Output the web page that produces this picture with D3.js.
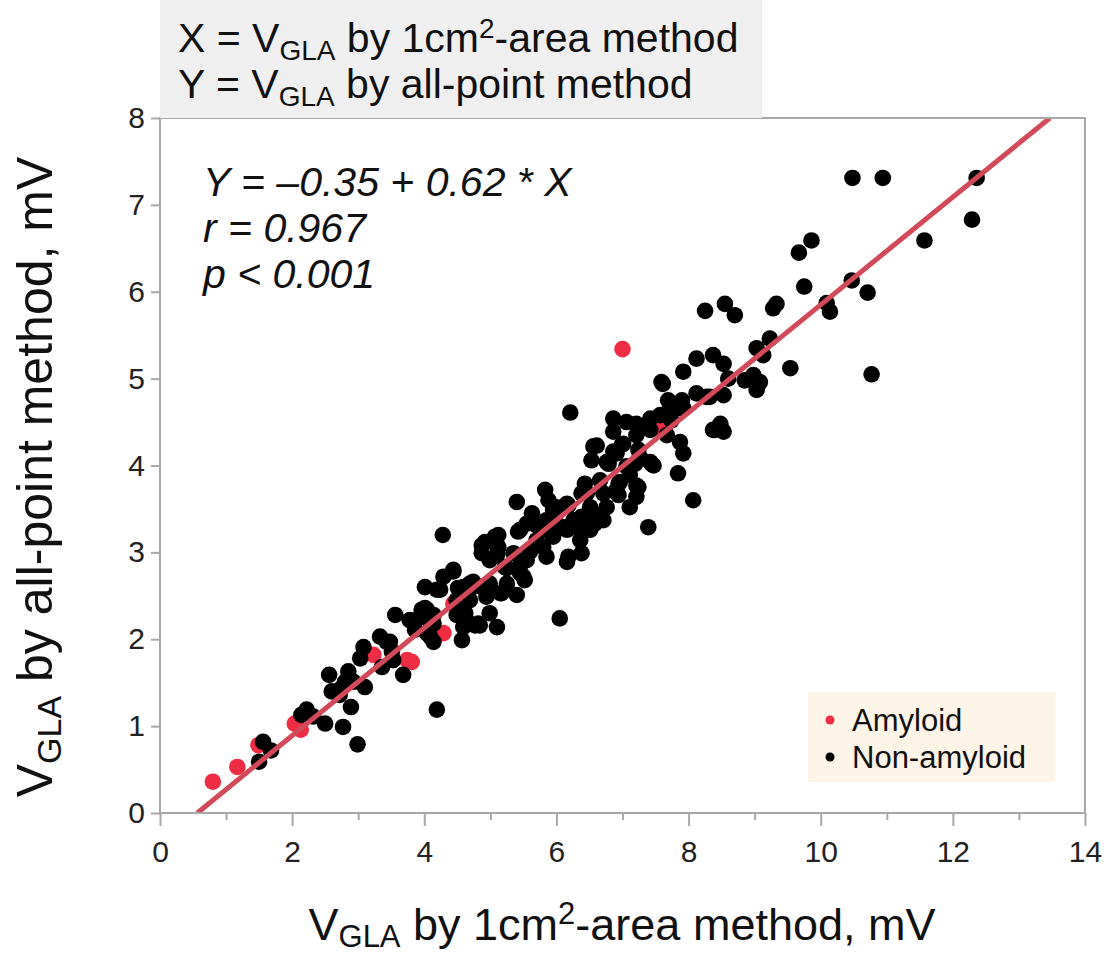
<!DOCTYPE html>
<html>
<head>
<meta charset="utf-8">
<script src="https://cdn.jsdelivr.net/npm/d3@7"></script>
<style>
  body { margin: 0; background: #fff; }
  text { font-family: "Liberation Sans", Arial, sans-serif; }
</style>
</head>
<body>
<div id="wrapper"></div>
<script>
// amyloid cases, [X, Y] in mV
const amyloidPoints = [
  [0.80, 0.36], [1.17, 0.53], [1.49, 0.78], [2.04, 1.03], [2.13, 0.96],
  [3.23, 1.82], [3.74, 1.76], [3.81, 1.74], [4.29, 2.07], [4.44, 2.41],
  [7.55, 4.43], [7.00, 5.34],
]

// non-amyloid cases, [X, Y] in mV
const nonAmyloidPoints = [
  [1.56, 0.82], [1.68, 0.72], [1.50, 0.59], [2.22, 1.19], [2.32, 1.11], [2.14, 1.13],
  [2.50, 1.03], [2.77, 0.99], [2.99, 0.79], [2.89, 1.22], [2.56, 1.59], [2.60, 1.40],
  [2.72, 1.36], [2.85, 1.63], [2.80, 1.51], [3.10, 1.45], [3.03, 1.78], [3.08, 1.91],
  [3.33, 2.03], [3.48, 1.97], [3.36, 1.68], [3.53, 1.76], [3.68, 1.59], [3.56, 2.28],
  [4.19, 1.19], [4.01, 2.60], [4.29, 2.72], [4.44, 2.78], [3.94, 2.26], [4.04, 2.34],
  [3.86, 2.11], [4.09, 2.03], [4.14, 2.18], [4.57, 1.99], [4.62, 2.30], [4.77, 2.16],
  [4.54, 2.57], [4.72, 2.60], [4.49, 2.45], [4.69, 2.45], [2.72, 1.42], [2.93, 1.51],
  [3.51, 1.86], [3.43, 1.97], [3.96, 2.34], [4.04, 2.24], [4.14, 1.97], [4.19, 2.57],
  [4.59, 2.60], [4.28, 3.20], [4.24, 2.57], [4.69, 2.64], [4.87, 2.60], [4.99, 2.64],
  [5.15, 2.53], [5.25, 2.64], [5.40, 2.51], [4.64, 2.22], [4.84, 2.16], [4.99, 2.30],
  [5.10, 2.14], [4.04, 2.07], [3.78, 2.22], [6.05, 2.24], [4.87, 3.08], [4.87, 2.99],
  [5.07, 3.18], [5.12, 3.06], [4.99, 2.91], [5.22, 2.83], [5.45, 2.76], [5.52, 2.68],
  [5.35, 2.99], [5.42, 3.24], [5.40, 3.58], [5.63, 3.45], [5.55, 3.33], [5.70, 3.14],
  [5.83, 3.72], [5.88, 3.60], [5.95, 3.49], [5.85, 3.37], [5.95, 3.18], [5.85, 2.95],
  [6.16, 3.56], [6.13, 3.29], [6.16, 2.89], [6.38, 2.99], [6.43, 3.79], [6.56, 4.22],
  [6.53, 4.06], [6.51, 3.52], [6.46, 3.29], [4.51, 2.59], [4.74, 2.66], [4.94, 2.59],
  [4.94, 2.49], [5.17, 2.53], [4.59, 2.45], [4.01, 2.36], [4.14, 2.28], [4.49, 2.28],
  [4.59, 2.14], [4.82, 2.18], [4.44, 2.80], [5.25, 2.82], [5.45, 2.85], [5.55, 2.91],
  [5.50, 2.72], [5.12, 3.20], [5.10, 3.08], [5.10, 2.97], [5.60, 3.01], [5.80, 3.06],
  [5.70, 3.31], [6.00, 3.33], [6.16, 3.26], [6.41, 3.33], [6.56, 3.45], [6.46, 3.68],
  [6.86, 4.54], [7.06, 4.50], [7.21, 4.48], [7.42, 4.54], [7.57, 4.58], [7.74, 4.52],
  [6.86, 4.39], [7.21, 4.35], [7.42, 4.41], [7.67, 4.35], [7.87, 4.27], [7.92, 4.14],
  [8.48, 4.48], [8.40, 4.41], [8.53, 4.39], [6.61, 4.23], [7.01, 4.25], [6.86, 4.16],
  [6.76, 4.04], [7.24, 4.18], [7.42, 4.04], [7.19, 4.02], [7.47, 4.00], [7.84, 3.91],
  [7.11, 3.89], [6.66, 3.83], [6.94, 3.79], [7.24, 3.75], [6.38, 3.68], [6.71, 3.68],
  [6.94, 3.66], [7.21, 3.64], [6.18, 3.54], [6.76, 3.52], [7.11, 3.52], [8.07, 3.60],
  [6.36, 3.26], [6.58, 3.33], [7.39, 3.29], [7.72, 4.68], [7.92, 4.66], [8.12, 4.83],
  [8.32, 4.79], [8.53, 4.81], [7.61, 4.94], [6.21, 4.61], [8.25, 5.78], [8.55, 5.86],
  [8.70, 5.73], [9.28, 5.81], [9.33, 5.86], [9.23, 5.46], [9.03, 5.35], [9.13, 5.27],
  [9.54, 5.12], [8.12, 5.23], [8.37, 5.27], [8.53, 5.17], [7.92, 5.08], [7.59, 4.96],
  [8.60, 5.00], [8.85, 4.98], [8.98, 5.04], [9.08, 4.96], [9.03, 4.87], [8.27, 4.79],
  [7.69, 4.75], [7.90, 4.75], [7.87, 4.66], [8.37, 4.41], [8.48, 4.46], [6.99, 4.24],
  [6.91, 4.14], [6.79, 4.02], [7.06, 3.99], [7.26, 4.10], [7.44, 4.02], [6.96, 3.81],
  [6.89, 3.70], [7.21, 3.77], [6.71, 3.37], [6.38, 3.41], [6.51, 3.26], [6.00, 3.52],
  [6.26, 3.37], [5.90, 3.24], [5.45, 3.26], [4.92, 3.12], [6.36, 3.14], [6.18, 2.95],
  [10.48, 7.31], [10.94, 7.31], [12.36, 7.31], [12.29, 6.83], [11.57, 6.59], [9.86, 6.59],
  [9.67, 6.45], [9.75, 6.06], [10.47, 6.13], [10.71, 5.99], [10.09, 5.87], [10.14, 5.77],
  [10.77, 5.05],
]

// regression Y = a + b * X
const intercept = -0.35
const slope = 0.62

const xTicks = [0, 2, 4, 6, 8, 10, 12, 14]
const xMinorTicks = [1, 3, 5, 7, 9, 11, 13]
const yTicks = [0, 1, 2, 3, 4, 5, 6, 7, 8]

const statLines = ["Y = \u20130.35 + 0.62 * X", "r = 0.967", "p < 0.001"]
const legendItems = [
  { label: "Amyloid", color: "#ee2c43" },
  { label: "Non-amyloid", color: "#000000" },
]

function drawChart() {

  // 1. dimensions
  let dimensions = {
    width: 1104,
    height: 958,
    margin: { top: 118, right: 19, bottom: 145, left: 160 },
  }
  dimensions.boundedWidth = dimensions.width - dimensions.margin.left - dimensions.margin.right
  dimensions.boundedHeight = dimensions.height - dimensions.margin.top - dimensions.margin.bottom

  // 2. canvas
  const wrapper = d3.select("#wrapper")
    .append("svg")
      .attr("width", dimensions.width)
      .attr("height", dimensions.height)

  wrapper.append("rect")
      .attr("width", dimensions.width)
      .attr("height", dimensions.height)
      .attr("fill", "#fff")

  const bounds = wrapper.append("g")
      .attr("transform", `translate(${dimensions.margin.left},${dimensions.margin.top})`)

  // 3. scales
  const xScale = d3.scaleLinear()
      .domain([0, 14])
      .range([0, dimensions.boundedWidth])
  const yScale = d3.scaleLinear()
      .domain([0, 8])
      .range([dimensions.boundedHeight, 0])

  // 4. header box (above plot)
  wrapper.append("rect")
      .attr("x", dimensions.margin.left)
      .attr("y", 0)
      .attr("width", 602)
      .attr("height", dimensions.margin.top)
      .attr("fill", "#efefef")

  const headerText = (y, letter, rest) => {
    const t = wrapper.append("text")
        .attr("x", 178)
        .attr("y", y)
        .attr("font-size", 41)
        .attr("fill", "#111")
    t.append("tspan").text(letter + " = V")
    t.append("tspan").attr("font-size", 28).attr("dy", 8).text("GLA")
    t.append("tspan").attr("dy", -8).text(rest[0])
    if (rest.length > 1) {
      t.append("tspan").attr("font-size", 28).attr("dy", -14).text("2")
      t.append("tspan").attr("dy", 14).text(rest[1])
    }
  }
  headerText(52, "X", [" by 1cm", "-area method"])
  headerText(98, "Y", [" by all-point method"])

  // 5. clip + data
  bounds.append("clipPath")
      .attr("id", "plot-clip")
    .append("rect")
      .attr("width", dimensions.boundedWidth)
      .attr("height", dimensions.boundedHeight)

  const plot = bounds.append("g").attr("clip-path", "url(#plot-clip)")

  plot.selectAll("circle.amyloid")
    .data(amyloidPoints)
    .join("circle")
      .attr("class", "amyloid")
      .attr("cx", d => xScale(d[0]))
      .attr("cy", d => yScale(d[1]))
      .attr("r", 8.3)
      .attr("fill", legendItems[0].color)

  plot.selectAll("circle.non")
    .data(nonAmyloidPoints)
    .join("circle")
      .attr("class", "non")
      .attr("cx", d => xScale(d[0]))
      .attr("cy", d => yScale(d[1]))
      .attr("r", 8.3)
      .attr("fill", legendItems[1].color)

  // regression line, from y=0 to y=8
  const lineEnds = [0, 8].map(y => [(y - intercept) / slope, y])
  plot.append("path")
      .datum(lineEnds)
      .attr("d", d3.line().x(d => xScale(d[0])).y(d => yScale(d[1])))
      .attr("stroke", "#d24a5a")
      .attr("stroke-width", 5)
      .attr("fill", "none")

  // 6. frame & axes
  bounds.append("rect")
      .attr("width", dimensions.boundedWidth)
      .attr("height", dimensions.boundedHeight)
      .attr("fill", "none")
      .attr("stroke", "#a8a8a8")
      .attr("stroke-width", 2)

  const xAxis = bounds.append("g")
      .attr("transform", `translate(0,${dimensions.boundedHeight})`)
      .call(d3.axisBottom(xScale).tickValues(xTicks).tickSize(13).tickPadding(15).tickFormat(d3.format("d")))
  xAxis.append("g")
      .call(d3.axisBottom(xScale).tickValues(xMinorTicks).tickSize(7).tickFormat(""))

  const yAxis = bounds.append("g")
      .call(d3.axisLeft(yScale).tickValues(yTicks).tickSize(9).tickPadding(6).tickFormat(d3.format("d")))

  ;[xAxis, yAxis].forEach(ax => {
    ax.selectAll(".domain").remove()
    ax.selectAll("line").attr("stroke", "#a8a8a8").attr("stroke-width", 2)
    ax.selectAll("text")
        .attr("font-size", 30)
        .attr("fill", "#222")
        .attr("font-family", "'Liberation Sans', Arial, sans-serif")
  })

  // 7. stats text
  bounds.append("g")
    .selectAll("text")
    .data(statLines)
    .join("text")
      .attr("x", 43)
      .attr("y", (d, i) => 78 + i * 46)
      .attr("font-size", 41)
      .attr("font-style", "italic")
      .attr("fill", "#111")
      .text(d => d)

  // 8. legend
  const legend = wrapper.append("g")
      .attr("transform", "translate(808,692)")
  legend.append("rect")
      .attr("width", 247)
      .attr("height", 90)
      .attr("fill", "#fdf4e8")
  const li = legend.selectAll("g")
    .data(legendItems)
    .join("g")
      .attr("transform", (d, i) => `translate(0,${28 + i * 37})`)
  li.append("circle")
      .attr("cx", 22)
      .attr("r", 4.5)
      .attr("fill", d => d.color)
  li.append("text")
      .attr("x", 44)
      .attr("dy", "0.35em")
      .attr("font-size", 31)
      .attr("fill", "#111")
      .text(d => d.label)

  // 9. axis titles
  const xLabel = wrapper.append("text")
      .attr("x", 622)
      .attr("y", 940)
      .attr("text-anchor", "middle")
      .attr("font-size", 45)
      .attr("fill", "#111")
  xLabel.append("tspan").text("V")
  xLabel.append("tspan").attr("font-size", 31).attr("dy", 7).text("GLA")
  xLabel.append("tspan").attr("dy", -7).text(" by 1cm")
  xLabel.append("tspan").attr("font-size", 31).attr("dy", -16).text("2")
  xLabel.append("tspan").attr("dy", 16).text("-area method, mV")

  const yLabel = wrapper.append("text")
      .attr("transform", "translate(52,477) rotate(-90)")
      .attr("text-anchor", "middle")
      .attr("font-size", 50)
      .attr("fill", "#111")
  yLabel.append("tspan").text("V")
  yLabel.append("tspan").attr("font-size", 34).attr("dy", 9).text("GLA")
  yLabel.append("tspan").attr("dy", -9).text(" by all-point method, mV")
}

drawChart()
</script>
</body>
</html>
